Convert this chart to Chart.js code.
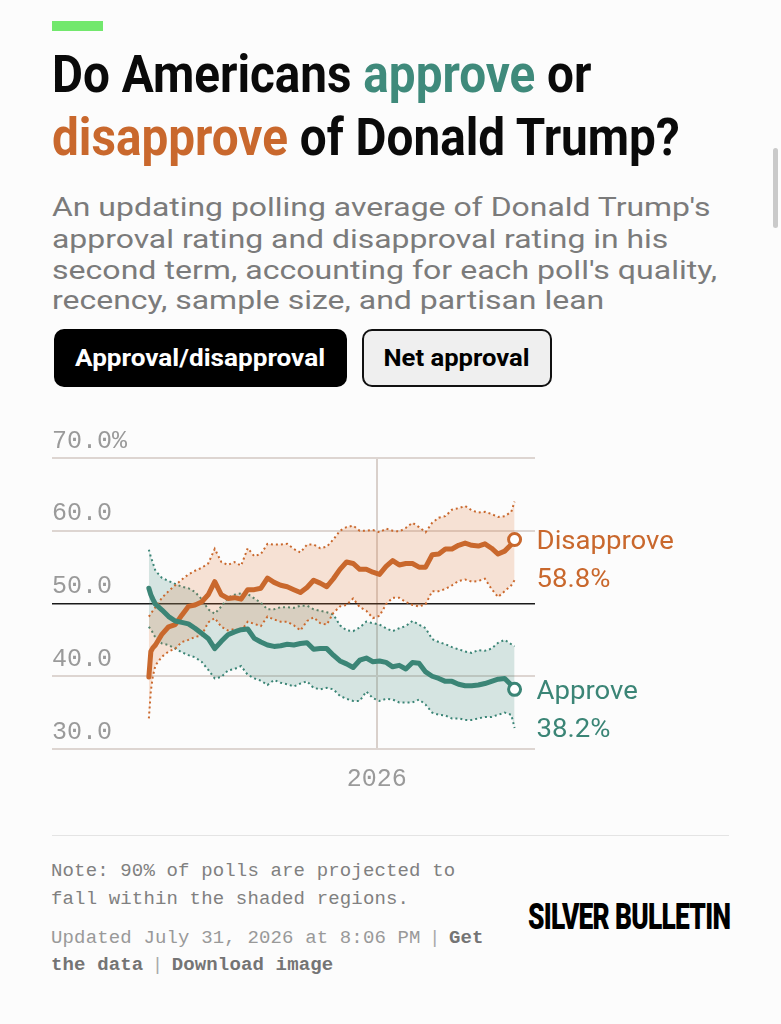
<!DOCTYPE html>
<html><head><meta charset="utf-8">
<script src="https://cdn.jsdelivr.net/npm/chart.js@4.4.1/dist/chart.umd.min.js"></script>
<style>
html,body{margin:0;padding:0;background:#fcfcfc;width:781px;height:1024px;overflow:hidden;}
.abs{position:absolute;white-space:nowrap;}
.fit{display:inline-block;transform-origin:0 0;}
.title{font-family:Roboto,"Liberation Sans",sans-serif;font-weight:700;font-size:51px;line-height:51px;color:#0a0a0a;}
.sub{font-family:Roboto,"Liberation Sans",sans-serif;font-weight:400;font-size:26px;line-height:26px;color:#7b7b7b;}
.btn{position:absolute;box-sizing:border-box;border-radius:10px;display:flex;align-items:center;justify-content:center;font-family:Roboto,"Liberation Sans",sans-serif;font-weight:700;font-size:23px;}
.note{font-family:"Liberation Mono","DejaVu Sans Mono",monospace;font-size:19px;line-height:19px;color:#808080;letter-spacing:0.15px;}
.note b{color:#747474;}
.sep{font-family:"Liberation Sans",sans-serif;color:#aaa;}
</style></head><body>
<div class="abs" style="left:52px;top:21px;width:51px;height:10px;background:#72e86d"></div>
<div class="abs title" style="left:52px;top:49px"><span class="fit" data-w="539">Do Americans <span style="color:#3f8a7b">approve</span> or</span></div>
<div class="abs title" style="left:52px;top:112px"><span class="fit" data-w="628"><span style="color:#c9682d">disapprove</span> of Donald Trump?</span></div>
<div class="abs sub" style="left:52px;top:194px"><span class="fit" data-w="658">An updating polling average of Donald Trump's</span></div>
<div class="abs sub" style="left:52px;top:226px"><span class="fit" data-w="616">approval rating and disapproval rating in his</span></div>
<div class="abs sub" style="left:52px;top:257px"><span class="fit" data-w="665">second term, accounting for each poll's quality,</span></div>
<div class="abs sub" style="left:52px;top:287px"><span class="fit" data-w="552">recency, sample size, and partisan lean</span></div>
<div class="btn" style="left:54px;top:329px;width:293px;height:58px;background:#000;color:#fff"><span class="fit" data-w="250" data-c="1">Approval/disapproval</span></div>
<div class="btn" style="left:362px;top:329px;width:190px;height:58px;background:#efefef;color:#000;border:2.5px solid #111"><span class="fit" data-w="146" data-c="1">Net approval</span></div>
<div class="abs" style="left:773px;top:148px;width:5px;height:80px;background:#cacaca;border-radius:3px"></div>

<canvas id="c" width="781" height="390" style="position:absolute;left:0;top:420px"></canvas>

<div class="abs" style="left:52px;top:835px;width:677px;height:1px;background:#e4e4e4"></div>
<div class="abs note" style="left:51px;top:862px">Note: 90% of polls are projected to</div>
<div class="abs note" style="left:51px;top:890px">fall within the shaded regions.</div>
<div class="abs note" style="left:51px;top:927px;color:#999">Updated July 31, 2026 at 8:06 PM <span class="sep">|</span> <b>Get</b></div>
<div class="abs note" style="left:51px;top:954px"><b>the data</b> <span class="sep">|</span> <b>Download image</b></div>
<div class="abs" style="left:528px;top:899px;font-family:Roboto,'Liberation Sans',sans-serif;font-weight:900;font-size:36px;line-height:36px;color:#000;letter-spacing:-1px"><span class="fit" data-w="202">SILVER BULLETIN</span></div>

<script>
// ---- data ----
const dates = ['2025-01-20','2025-01-23','2025-01-26','2025-01-30','2025-02-09','2025-02-19','2025-03-01','2025-03-11','2025-03-21','2025-03-31','2025-04-10','2025-04-20','2025-04-30','2025-05-10','2025-05-20','2025-05-30','2025-06-09','2025-06-19','2025-06-29','2025-07-09','2025-07-19','2025-07-29','2025-08-08','2025-08-18','2025-08-28','2025-09-07','2025-09-17','2025-09-27','2025-10-07','2025-10-17','2025-10-27','2025-11-06','2025-11-16','2025-11-26','2025-12-06','2025-12-16','2025-12-26','2026-01-05','2026-01-15','2026-01-25','2026-02-04','2026-02-14','2026-02-24','2026-03-06','2026-03-16','2026-03-26','2026-04-05','2026-04-15','2026-04-25','2026-05-05','2026-05-15','2026-05-25','2026-06-04','2026-06-14','2026-06-24','2026-07-04','2026-07-14','2026-07-24','2026-07-29'];
const approve = [52.1,51.2,50.6,49.9,49.1,48.2,47.6,47.4,47.2,46.6,45.9,45.2,43.8,44.8,45.7,46.1,46.4,46.5,45.2,44.7,44.3,44.1,44.2,44.4,44.3,44.5,44.6,43.7,43.8,43.8,42.9,42.1,41.7,41.2,42.2,42.5,42.0,42.1,41.9,41.3,41.5,41.0,41.9,41.8,40.6,40.0,39.7,39.3,39.3,38.9,38.7,38.7,38.8,39.0,39.3,39.6,39.7,38.8,38.2];
const approveHigh = [57.4,56.4,55.6,54.5,53.5,53.1,52.7,52.3,52.1,51.6,50.6,49.2,48.6,49.6,50.8,51.2,51.4,51.3,50.7,50.1,49.2,49.2,49.5,49.5,49.4,49.7,49.7,49.2,49.0,48.8,48.5,47.0,46.3,46.2,46.7,47.5,47.3,47.1,46.6,46.2,46.6,46.9,47.6,47.1,46.6,45.1,44.7,44.4,44.0,43.7,43.4,43.2,43.6,43.5,43.8,44.6,45.0,44.4,44.1];
const approveLow = [46.8,46.4,46.0,45.3,44.5,44.3,43.8,43.3,42.9,42.6,42.0,40.9,39.7,39.9,40.8,41.0,41.4,40.2,39.7,39.4,38.8,39.5,39.1,38.9,38.6,39.0,39.3,38.4,38.2,38.4,38.2,37.3,36.9,36.6,36.6,37.9,37.0,36.6,36.9,36.8,36.4,36.4,36.4,36.8,36.1,35.0,34.7,34.6,34.2,34.2,34.0,34.0,34.2,34.4,34.4,34.7,35.0,34.7,32.9];
const disapprove = [39.9,43.4,43.9,44.3,45.8,46.8,47.1,48.4,49.6,49.8,50.2,51.2,53.0,51.2,50.7,50.8,50.6,51.9,51.9,52.1,53.5,52.9,52.5,52.3,51.9,51.5,52.2,53.2,52.8,52.3,53.4,54.7,55.7,55.5,54.7,54.7,54.3,54.0,55.1,55.9,55.3,55.5,55.5,55.0,55.0,56.7,56.8,57.5,57.5,58.0,58.3,58.0,57.9,58.2,57.6,56.8,57.2,58.1,58.8];
const disapproveHigh = [48.2,48.6,49.0,49.5,50.8,51.7,52.5,53.3,54.0,54.5,54.9,55.5,57.5,55.7,55.3,55.7,55.2,57.6,56.5,56.8,58.2,58.1,58.1,58.2,57.5,57.0,58.1,58.1,57.6,57.8,58.8,60.0,60.5,60.7,60.0,60.0,60.1,59.8,60.3,60.0,59.9,60.4,61.1,60.5,59.8,61.1,61.8,62.0,62.9,63.1,63.4,62.8,62.5,62.6,62.3,61.9,62.0,62.6,64.0];
const disapproveLow = [34.2,38.0,40.0,41.5,42.7,43.4,43.8,44.7,45.0,45.4,45.6,47.4,48.0,46.8,46.3,46.5,46.2,47.5,47.2,46.9,48.2,47.8,47.5,47.5,47.0,46.3,47.6,48.1,47.3,47.1,48.7,49.6,49.8,50.7,49.5,49.0,48.0,48.3,49.9,50.8,50.8,50.2,49.8,49.6,49.9,51.7,51.7,52.0,52.5,53.1,53.3,53.0,53.1,53.4,52.0,50.9,51.7,52.5,53.2];
const yTicks = [30, 40, 50, 60, 70];
const xTickDate = '2026-01-01';
const xTickLabel = '2026';
const xRange = ['2024-08-26', '2026-08-29'];
const seriesNames = ['Approve', 'Disapprove'];

// ---- styling ----
const TEAL = '#3b8576', ORANGE = '#c9682d';
const dayNum = d => Date.parse(d) / 86400000;
const pts = arr => arr.map((v, i) => ({x: dayNum(dates[i]), y: v}));

// fit text widths
document.querySelectorAll('.fit').forEach(el => {
  const w = el.offsetWidth, t = +el.dataset.w;
  if (el.dataset.c) { el.style.transformOrigin = '50% 50%'; }
  el.style.transform = 'scaleX(' + (t / w) + ')';
});

const lastIdx = dates.length - 1;
const band = (data, color, fill, bg) => ({
  data: pts(data), borderColor: color, borderWidth: 2, borderDash: [2, 3],
  pointRadius: 0, fill: fill, backgroundColor: bg, tension: 0, order: 2
});
const mainLine = (data, color) => ({
  data: pts(data), borderColor: color, borderWidth: 5, tension: 0, fill: false, order: 0,
  borderJoinStyle: 'round', borderCapStyle: 'round',
  pointRadius: c => c.dataIndex === lastIdx ? 6 : 0,
  pointBorderWidth: 3, pointBackgroundColor: '#fff', pointBorderColor: color
});

const endLabels = {
  id: 'endLabels',
  afterDatasetsDraw(chart) {
    const ctx = chart.ctx;
    [[5, seriesNames[1], disapprove, ORANGE], [4, seriesNames[0], approve, TEAL]].forEach(([i, name, vals, col]) => {
      const meta = chart.getDatasetMeta(i);
      const p = meta.data[meta.data.length - 1];
      ctx.save();
      ctx.font = '400 25.5px Roboto, "Liberation Sans", sans-serif';
      ctx.fillStyle = col; ctx.textAlign = 'left'; ctx.textBaseline = 'alphabetic';
      ctx.translate(p.x + 22, p.y);
      ctx.scale(1.08, 1);
      ctx.fillText(name, 0, 10);
      ctx.fillText(vals[vals.length - 1].toFixed(1) + '%', 0, 48);
      ctx.restore();
    });
  }
};

const monoFont = {family: '"Liberation Mono", "DejaVu Sans Mono", monospace', size: 25};

new Chart(document.getElementById('c'), {
  type: 'line',
  data: {
    datasets: [
      band(disapproveHigh, ORANGE, '+1', 'rgba(225,120,55,0.2)'),
      band(disapproveLow, ORANGE, false, 'transparent'),
      band(approveHigh, TEAL, '+1', 'rgba(59,133,118,0.2)'),
      band(approveLow, TEAL, false, 'transparent'),
      mainLine(approve, TEAL),
      mainLine(disapprove, ORANGE)
    ]
  },
  options: {
    responsive: false, animation: false, events: [],
    layout: {padding: {left: 52, right: 246, top: 38, bottom: 1}},
    plugins: {legend: {display: false}, tooltip: {enabled: false}},
    scales: {
      x: {
        type: 'linear', min: dayNum(xRange[0]), max: dayNum(xRange[1]),
        afterBuildTicks: s => { s.ticks = [{value: dayNum(xTickDate)}]; },
        ticks: {callback: () => xTickLabel, color: '#9a9a9a', font: monoFont, padding: 15, maxRotation: 0},
        grid: {color: '#d9d0cb', lineWidth: 2, drawTicks: false},
        border: {display: false}
      },
      y: {
        min: 30, max: 70,
        afterBuildTicks: s => { s.ticks = yTicks.map(v => ({value: v})); },
        ticks: {
          mirror: true, padding: 0, labelOffset: -17, color: '#9a9a9a', font: monoFont,
          callback: v => v === 70 ? v.toFixed(1) + '%' : v.toFixed(1)
        },
        grid: {
          color: c => c.tick && c.tick.value === 50 ? '#1a1a1a' : '#ddd5d1',
          lineWidth: c => c.tick && c.tick.value === 50 ? 1.5 : 2,
          drawTicks: false
        },
        border: {display: false}
      }
    }
  },
  plugins: [endLabels]
});
</script>
</body></html>
